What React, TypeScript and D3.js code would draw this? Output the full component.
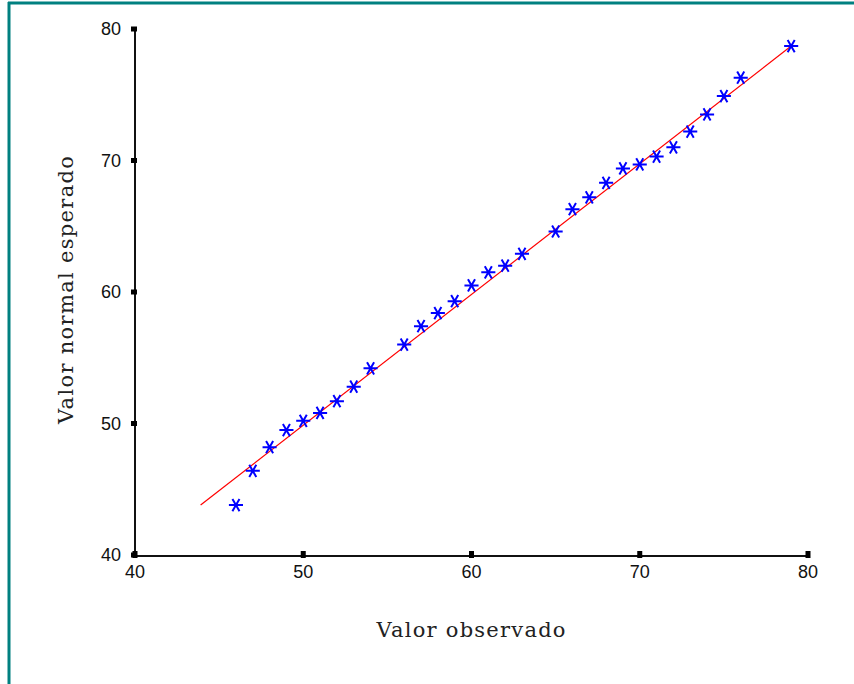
import React, { useEffect, useRef } from 'react';
import * as d3 from 'd3';

// observed values vs expected normal values
const observed = [46, 47, 48, 49, 50, 51, 52, 53, 54, 56, 57, 58, 59, 60, 61, 62, 63, 65, 66, 67, 68, 69, 70, 71, 72, 73, 74, 75, 76, 79];
const expected = [43.8, 46.4, 48.2, 49.5, 50.2, 50.8, 51.7, 52.8, 54.2, 56.0, 57.4, 58.4, 59.3, 60.5, 61.5, 62.0, 62.9, 64.6, 66.3, 67.2, 68.3, 69.4, 69.7, 70.3, 71.0, 72.2, 73.5, 74.9, 76.3, 78.7];

// reference line end points
const lineX = [43.9, 79];
const lineY = [43.8, 78.7];

const xTicks = [40, 50, 60, 70, 80];
const yTicks = [40, 50, 60, 70, 80];

const W = 854;
const H = 684;

const App: React.FC = () => {
  const svgRef = useRef<SVGSVGElement>(null);

  useEffect(() => {
    if (!svgRef.current) return;
    document.body.style.margin = '0';

    const svg = d3.select(svgRef.current);
    svg.selectAll('*').remove();

    const x = d3.scaleLinear().domain([40, 80]).range([135, 808]);
    const y = d3.scaleLinear().domain([40, 80]).range([555, 29]);

    svg.append('rect').attr('width', W).attr('height', H).attr('fill', '#fff');

    // teal frame (top and left edges only visible)
    svg.append('line')
      .attr('x1', 8).attr('x2', W).attr('y1', 3).attr('y2', 3)
      .attr('stroke', '#008080').attr('stroke-width', 3);
    svg.append('line')
      .attr('x1', 9).attr('x2', 9).attr('y1', 2).attr('y2', H)
      .attr('stroke', '#008080').attr('stroke-width', 3);

    // axes
    svg.append('line')
      .attr('x1', x(40)).attr('x2', x(40)).attr('y1', y(80)).attr('y2', y(40))
      .attr('stroke', '#111').attr('stroke-width', 2);
    svg.append('line')
      .attr('x1', x(40)).attr('x2', x(80)).attr('y1', y(40) + 1).attr('y2', y(40) + 1)
      .attr('stroke', '#111').attr('stroke-width', 2);

    yTicks.forEach(t => {
      svg.append('rect')
        .attr('x', x(40) - 4).attr('y', y(t) - 2.5)
        .attr('width', 6).attr('height', 5).attr('fill', '#000');
      svg.append('text')
        .attr('x', 121).attr('y', y(t))
        .attr('text-anchor', 'end')
        .attr('dominant-baseline', 'central')
        .attr('font-family', 'Liberation Sans, Arial, sans-serif')
        .attr('font-size', 18)
        .attr('fill', '#111')
        .text(t);
    });

    xTicks.forEach(t => {
      svg.append('rect')
        .attr('x', x(t) - 2.5).attr('y', y(40) - 4)
        .attr('width', 5).attr('height', 7).attr('fill', '#000');
      svg.append('text')
        .attr('x', x(t)).attr('y', 578)
        .attr('text-anchor', 'middle')
        .attr('font-family', 'Liberation Sans, Arial, sans-serif')
        .attr('font-size', 18)
        .attr('fill', '#111')
        .text(t);
    });

    // fitted line
    svg.append('line')
      .attr('x1', x(lineX[0])).attr('y1', y(lineY[0]))
      .attr('x2', x(lineX[1])).attr('y2', y(lineY[1]))
      .attr('stroke', '#ff0000').attr('stroke-width', 1.2);

    // asterisk markers
    const sym = d3.symbol().type(d3.symbolAsterisk).size(140);
    svg.append('g')
      .selectAll('path')
      .data(observed)
      .enter()
      .append('path')
      .attr('d', sym as any)
      .attr('transform', (d: number, i: number) => `translate(${x(d)},${y(expected[i])}) rotate(90)`)
      .attr('fill', 'none')
      .attr('stroke', '#0000ff')
      .attr('stroke-width', 2);

    // axis titles
    svg.append('text')
      .attr('x', 471).attr('y', 637)
      .attr('text-anchor', 'middle')
      .attr('font-family', 'DejaVu Serif, serif')
      .attr('font-size', 21)
      .attr('textLength', 189)
      .attr('lengthAdjust', 'spacing')
      .attr('fill', '#222')
      .text('Valor observado');

    svg.append('text')
      .attr('transform', 'translate(73,290) rotate(-90)')
      .attr('text-anchor', 'middle')
      .attr('font-family', 'DejaVu Serif, serif')
      .attr('font-size', 21)
      .attr('textLength', 268)
      .attr('lengthAdjust', 'spacing')
      .attr('fill', '#222')
      .text('Valor normal esperado');
  }, []);

  return (
    <div style={{ position: 'absolute', left: 0, top: 0 }}>
      <svg ref={svgRef} width={W} height={H}></svg>
    </div>
  );
};

export default App;
